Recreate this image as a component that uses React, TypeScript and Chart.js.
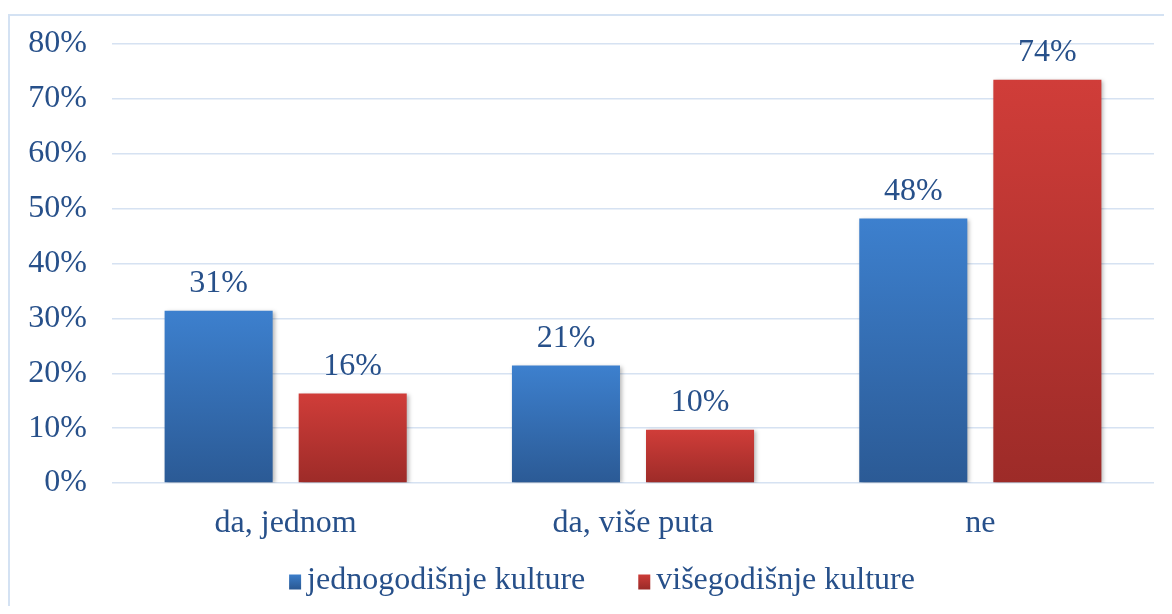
import React, { useEffect, useRef } from "react";
import { Chart, registerables } from "chart.js";

Chart.register(...registerables);

const categories = ["da, jednom", "da, više puta", "ne"];
const seriesNames = ["jednogodišnje kulture", "višegodišnje kulture"];
const annualValues = [31.4, 21.4, 48.2];
const perennialValues = [16.3, 9.7, 73.5];
const annualLabels = ["31%", "21%", "48%"];
const perennialLabels = ["16%", "10%", "74%"];
const yTicks = [0, 10, 20, 30, 40, 50, 60, 70, 80];

const FONT = "'Liberation Serif', 'Times New Roman', serif";
const FS = 32;
const TEXT = "#27508A";
const GRID = "#D6E2F2";
const palettes = [
  { top: "#3D80CE", bottom: "#2B5A95", solid: "#3471BA" },
  { top: "#D03D39", bottom: "#9D2B28", solid: "#C0392F" },
];

function barFill(idx: number) {
  return (ctx: any) => {
    const chart = ctx.chart;
    const p = palettes[idx];
    if (ctx.type !== "data" || !chart.chartArea || !chart.scales.y) return p.solid;
    const ys = chart.scales.y;
    const top = ys.getPixelForValue(ctx.raw);
    const bottom = ys.getPixelForValue(0);
    if (!isFinite(top) || !isFinite(bottom) || top === bottom) return p.solid;
    const g = chart.ctx.createLinearGradient(0, top, 0, bottom);
    g.addColorStop(0, p.top);
    g.addColorStop(1, p.bottom);
    return g;
  };
}

const borderPlugin = {
  id: "frame",
  beforeDraw(chart: any) {
    const c = chart.ctx;
    c.save();
    c.strokeStyle = "#D4E2F3";
    c.lineWidth = 2;
    c.beginPath();
    c.moveTo(1, chart.height);
    c.lineTo(1, 7);
    c.lineTo(chart.width, 7);
    c.stroke();
    c.restore();
  },
};

const shadowPlugin = {
  id: "barShadow",
  beforeDatasetsDraw(chart: any) {
    const c = chart.ctx;
    c.save();
    c.shadowColor = "rgba(0,0,0,0.28)";
    c.shadowBlur = 4;
    c.shadowOffsetX = 2;
    c.shadowOffsetY = 1;
  },
  afterDatasetsDraw(chart: any) {
    chart.ctx.restore();
  },
};

const labelsPlugin = {
  id: "valueLabels",
  afterDatasetsDraw(chart: any) {
    const c = chart.ctx;
    const texts = [annualLabels, perennialLabels];
    c.save();
    c.font = `${FS}px ${FONT}`;
    c.fillStyle = TEXT;
    c.textAlign = "center";
    c.textBaseline = "alphabetic";
    chart.data.datasets.forEach((_: any, di: number) => {
      const meta = chart.getDatasetMeta(di);
      meta.data.forEach((el: any, i: number) => {
        c.fillText(texts[di][i], el.x, el.y - 19);
      });
    });
    c.restore();
  },
};

const legendPlugin = {
  id: "customLegend",
  afterDraw(chart: any) {
    const c = chart.ctx;
    c.save();
    c.font = `${FS}px ${FONT}`;
    c.textBaseline = "middle";
    c.textAlign = "left";
    const boxW = 12;
    const boxH = 15;
    const gapBox = 6;
    const gapItems = 53;
    const widths = seriesNames.map((n) => boxW + gapBox + c.measureText(n).width);
    const total = widths.reduce((a, b) => a + b, 0) + gapItems * (widths.length - 1);
    let x = 594 - total / 2;
    const cy = 573;
    seriesNames.forEach((name, i) => {
      const p = palettes[i];
      const g = c.createLinearGradient(0, cy - boxH / 2, 0, cy + boxH / 2);
      g.addColorStop(0, p.top);
      g.addColorStop(1, p.bottom);
      c.fillStyle = g;
      c.fillRect(x, cy - boxH / 2 + 1, boxW, boxH);
      c.fillStyle = TEXT;
      c.fillText(name, x + boxW + gapBox, cy);
      x += widths[i] + gapItems;
    });
    c.restore();
  },
};

export default function App() {
  const ref = useRef<HTMLCanvasElement | null>(null);
  useEffect(() => {
    let chart: Chart | null = null;
    let cancelled = false;
    const build = () => {
      if (cancelled || !ref.current) return;
      chart = new Chart(ref.current, {
        type: "bar",
        data: {
          labels: categories,
          datasets: [
            {
              label: seriesNames[0],
              data: annualValues,
              backgroundColor: barFill(0),
              categoryPercentage: 0.772,
              barPercentage: 0.806,
            },
            {
              label: seriesNames[1],
              data: perennialValues,
              backgroundColor: barFill(1),
              categoryPercentage: 0.772,
              barPercentage: 0.806,
            },
          ],
        },
        options: {
          animation: false,
          responsive: false,
          maintainAspectRatio: false,
          layout: { padding: { left: 0, right: 10, top: 36, bottom: 63 } },
          plugins: {
            legend: { display: false },
            tooltip: { enabled: false },
          },
          scales: {
            x: {
              grid: { display: false },
              border: { display: false },
              ticks: {
                color: TEXT,
                font: { family: FONT, size: FS },
                padding: 13,
              },
              afterFit: (s: any) => {
                s.height = 60;
              },
            },
            y: {
              min: 0,
              max: 80,
              afterBuildTicks: (s: any) => {
                s.ticks = yTicks.map((v) => ({ value: v }));
              },
              grid: { color: GRID, lineWidth: 1.5, drawTicks: false },
              border: { display: false },
              ticks: {
                color: TEXT,
                font: { family: FONT, size: FS },
                padding: 25,
                callback: (v: any) => `${v}%`,
              },
              afterFit: (s: any) => {
                s.width = 104;
                s.paddingTop = 10;
                s.paddingBottom = 10;
              },
            },
          },
        },
        plugins: [borderPlugin, shadowPlugin, labelsPlugin, legendPlugin],
      });
    };
    const fonts: any = (document as any).fonts;
    if (fonts && fonts.load) {
      Promise.all([fonts.load(`${FS}px "Liberation Serif"`), fonts.load(`${FS}px "Liberation Serif"`, "šđ")])
        .catch(() => null)
        .then(build);
    } else {
      build();
    }
    return () => {
      cancelled = true;
      if (chart) chart.destroy();
    };
  }, []);
  return <canvas ref={ref} width={1156} height={598} style={{ display: "block" }} />;
}
